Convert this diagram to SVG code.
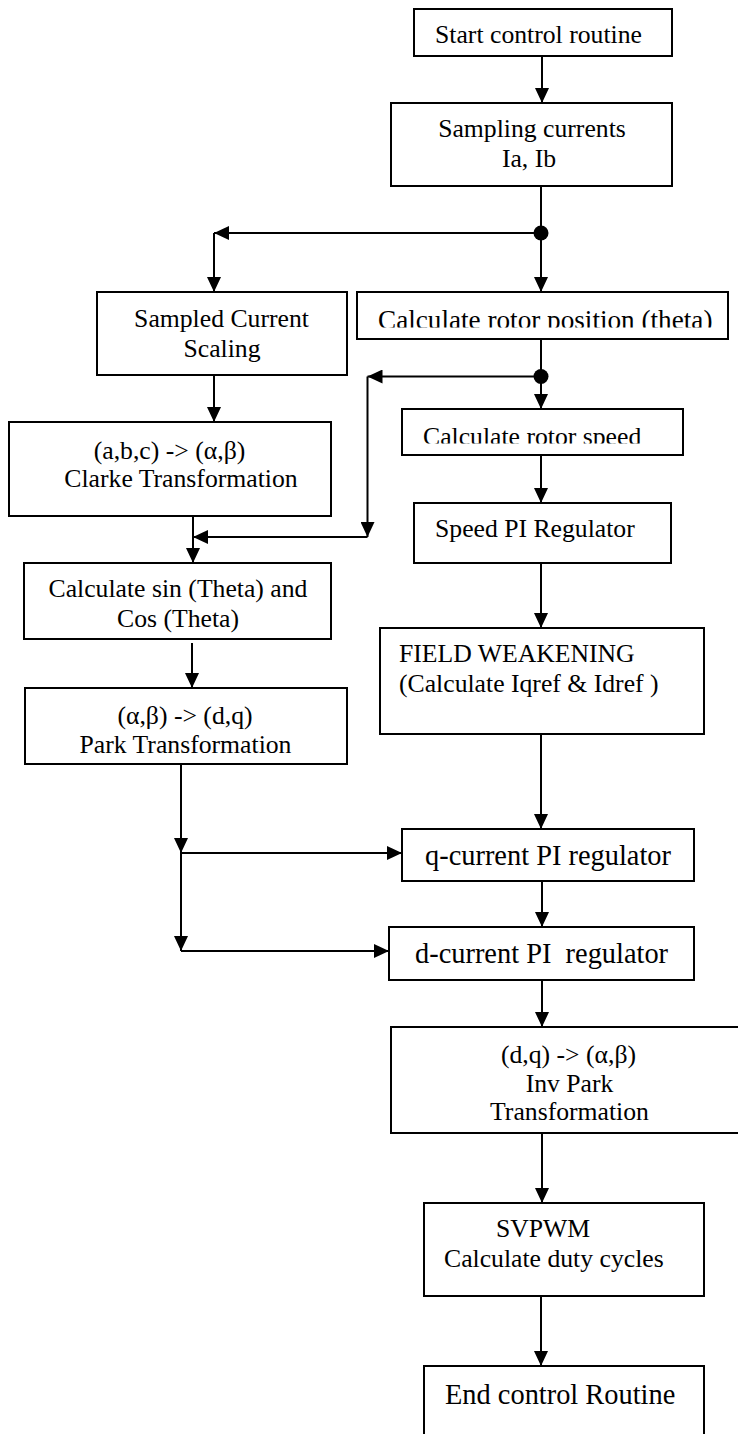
<svg xmlns="http://www.w3.org/2000/svg" width="738" height="1434" viewBox="0 0 738 1434">
<style>
  .box { fill: #fff; stroke: #000; stroke-width: 2; }
  .t { font-family: "Liberation Serif", "Times New Roman", serif; font-size: 25.7px; fill: #000; white-space: pre; }
  .m { text-anchor: middle; }
  .big { font-size: 28.4px; }
  .ln { stroke: #000; stroke-width: 2; fill: none; }
  .a { marker-end: url(#arr); }
</style>
<defs>
  <marker id="arr" markerUnits="userSpaceOnUse" markerWidth="15" markerHeight="14" refX="15" refY="7" orient="auto">
    <path d="M0,0 L15,7 L0,14 z" fill="#000"/>
  </marker>
  <clipPath id="clipPos"><rect x="350" y="290" width="390" height="37.5"/></clipPath>
  <clipPath id="clipSpd"><rect x="400" y="405" width="290" height="38.5"/></clipPath>
</defs>
<rect width="738" height="1434" fill="#fff"/>

<g id="connectors">
  <line class="ln a" x1="542" y1="56" x2="542" y2="103"/>
  <line class="ln" x1="541" y1="186" x2="541" y2="233"/>
  <line class="ln a" x1="541" y1="233" x2="214" y2="233"/>
  <line class="ln a" x1="214" y1="233" x2="214" y2="292"/>
  <line class="ln a" x1="541" y1="233" x2="541" y2="292"/>
  <circle cx="541" cy="233" r="7.5" fill="#000"/>
  <line class="ln a" x1="214" y1="375" x2="214" y2="422"/>
  <line class="ln" x1="541" y1="339" x2="541" y2="376.5"/>
  <line class="ln a" x1="541" y1="376.5" x2="367.5" y2="376.5"/>
  <line class="ln a" x1="367.5" y1="376.5" x2="367.5" y2="537"/>
  <line class="ln a" x1="367.5" y1="537" x2="193" y2="537"/>
  <line class="ln a" x1="541" y1="376.5" x2="541" y2="409"/>
  <circle cx="541" cy="376.5" r="7.5" fill="#000"/>
  <line class="ln a" x1="193" y1="516" x2="193" y2="563"/>
  <line class="ln a" x1="541" y1="455" x2="541" y2="503"/>
  <line class="ln a" x1="192" y1="643" x2="192" y2="688"/>
  <line class="ln a" x1="541" y1="563" x2="541" y2="628"/>
  <line class="ln a" x1="181" y1="764" x2="181" y2="853"/>
  <line class="ln a" x1="181" y1="853" x2="402" y2="853"/>
  <line class="ln a" x1="181" y1="853" x2="181" y2="951"/>
  <line class="ln a" x1="181" y1="951" x2="389" y2="951"/>
  <line class="ln a" x1="541" y1="734" x2="541" y2="829"/>
  <line class="ln a" x1="542" y1="881" x2="542" y2="927"/>
  <line class="ln a" x1="542" y1="980" x2="542" y2="1027"/>
  <line class="ln a" x1="542" y1="1133" x2="542" y2="1203"/>
  <line class="ln a" x1="541" y1="1296" x2="541" y2="1366"/>
</g>

<g id="start">
  <rect class="box" x="414" y="9" width="258" height="47"/>
  <text class="t m" x="538.5" y="43">Start control routine</text>
</g>
<g id="sampling">
  <rect class="box" x="391" y="103" width="281" height="83"/>
  <text class="t m" x="532" y="137">Sampling currents</text>
  <text class="t m" x="529" y="167">Ia, Ib</text>
</g>
<g id="scaling">
  <rect class="box" x="97" y="292" width="250" height="83"/>
  <text class="t m" x="221.5" y="327">Sampled Current</text>
  <text class="t m" x="222" y="357">Scaling</text>
</g>
<g id="rotorpos">
  <rect class="box" x="357" y="292" width="371" height="47"/>
  <text class="t" x="378" y="328.5" style="font-size:27.2px" clip-path="url(#clipPos)">Calculate rotor position (theta)</text>
</g>
<g id="rotorspeed">
  <rect class="box" x="402" y="409" width="281" height="46"/>
  <text class="t" x="423" y="444.5" clip-path="url(#clipSpd)">Calculate rotor speed</text>
</g>
<g id="speedpi">
  <rect class="box" x="414" y="503" width="257" height="60"/>
  <text class="t" x="435" y="537">Speed PI Regulator</text>
</g>
<g id="clarke">
  <rect class="box" x="9" y="422" width="322" height="94"/>
  <text class="t m" x="169.5" y="459">(a,b,c) -&gt; (α,β)</text>
  <text class="t m" x="181" y="487">Clarke Transformation</text>
</g>
<g id="sincos">
  <rect class="box" x="24" y="563" width="307" height="76"/>
  <text class="t m" x="178" y="597">Calculate sin (Theta) and</text>
  <text class="t m" x="178" y="627">Cos (Theta)</text>
</g>
<g id="park">
  <rect class="box" x="25" y="688" width="322" height="76"/>
  <text class="t m" x="185" y="724">(α,β) -&gt; (d,q)</text>
  <text class="t m" x="185.5" y="753">Park Transformation</text>
</g>
<g id="fieldweak">
  <rect class="box" x="380" y="628" width="324" height="106"/>
  <text class="t" x="399" y="662">FIELD WEAKENING</text>
  <text class="t" x="399" y="692">(Calculate Iqref &amp; Idref )</text>
</g>
<g id="qcurrent">
  <rect class="box" x="402" y="829" width="292" height="52"/>
  <text class="t big" x="425" y="865">q-current PI regulator</text>
</g>
<g id="dcurrent">
  <rect class="box" x="389" y="927" width="305" height="53"/>
  <text class="t big" x="415" y="963">d-current PI  regulator</text>
</g>
<g id="invpark">
  <rect class="box" x="391" y="1027" width="360" height="106"/>
  <text class="t m" x="568.5" y="1063">(d,q) -&gt; (α,β)</text>
  <text class="t m" x="569.5" y="1092">Inv Park</text>
  <text class="t m" x="569.5" y="1120">Transformation</text>
</g>
<g id="svpwm">
  <rect class="box" x="424" y="1203" width="280" height="93"/>
  <text class="t" x="496" y="1237">SVPWM</text>
  <text class="t" x="444" y="1267">Calculate duty cycles</text>
</g>
<g id="end">
  <rect class="box" x="424" y="1366" width="280" height="100"/>
  <text class="t big" x="445" y="1404">End control Routine</text>
</g>
</svg>
